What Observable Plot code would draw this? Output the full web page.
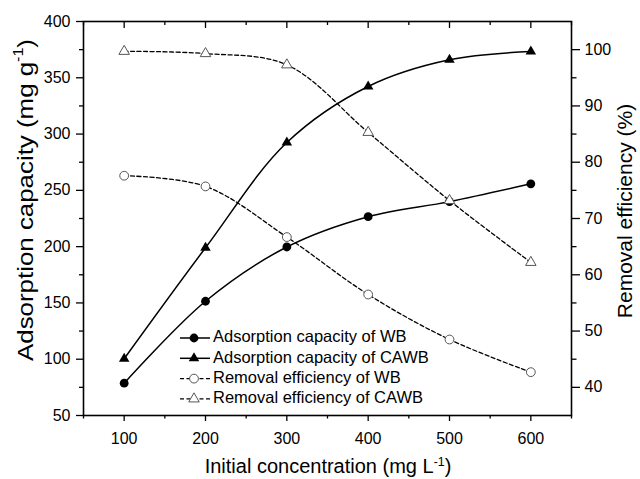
<!DOCTYPE html>
<html>
<head>
<meta charset="utf-8">
<script src="https://cdn.jsdelivr.net/npm/d3@7"></script>
<script src="https://cdn.jsdelivr.net/npm/@observablehq/plot@0.6"></script>
<style>
  html, body { margin: 0; padding: 0; background: #fff; }
  #chart svg { display: block; }
</style>
</head>
<body>
<div id="chart"></div>
<script>
// ---- data ----
const concentrations = [100, 200, 300, 400, 500, 600];          // mg L-1
const capacityWB     = [78.7, 151.5, 199.7, 226.6, 240.0, 255.8]; // mg g-1 (left axis)
const capacityCAWB   = [100.4, 199.0, 292.5, 342.3, 366.0, 373.4];
const removalWB      = [77.6, 75.7, 66.7, 56.5, 48.5, 42.7];    // % (right axis)
const removalCAWB    = [99.7, 99.3, 97.3, 85.3, 73.2, 62.2];

// ---- axis ticks ----
const xTicks = [100, 200, 300, 400, 500, 600];
const xMinorTicks = [50, 150, 250, 350, 450, 550, 650];
const leftTicks = [50, 100, 150, 200, 250, 300, 350, 400];
const leftMinorTicks = [75, 125, 175, 225, 275, 325, 375];
const rightTicks = [40, 50, 60, 70, 80, 90, 100];
const rightMinorTicks = [45, 55, 65, 75, 85, 95];

const legendLabels = [
  "Adsorption capacity of WB",
  "Adsorption capacity of CAWB",
  "Removal efficiency of WB",
  "Removal efficiency of CAWB"
];

// ---- scales ----
const leftDomain = [50, 400];
const rightDomain = [35, 105];
const toLeft = v => leftDomain[0] + (v - rightDomain[0]) * (leftDomain[1] - leftDomain[0]) / (rightDomain[1] - rightDomain[0]);
const fromLeft = v => rightDomain[0] + (v - leftDomain[0]) * (rightDomain[1] - rightDomain[0]) / (leftDomain[1] - leftDomain[0]);

const rows = concentrations.map((c, i) => ({
  c,
  capWB: capacityWB[i],
  capCAWB: capacityCAWB[i],
  remWB: toLeft(removalWB[i]),
  remCAWB: toLeft(removalCAWB[i])
}));

const FONT = "'Liberation Sans', Arial, Helvetica, sans-serif";
const W = 640, H = 479;
const mL = 83, mR = 69, mT = 21, mB = 64;
const innerH = H - mT - mB;

const R_CIRCLE = 4.4;
const R_TRI = 3.9;
const openStroke = "#555";
const dash = "4,2.5";
const TW = 1.3;

const plot = Plot.plot({
  width: W,
  height: H,
  marginLeft: mL,
  marginRight: mR,
  marginTop: mT,
  marginBottom: mB,
  style: { fontFamily: FONT, fontSize: "16px", color: "#000", background: "#fff" },
  x: { domain: [50, 650], axis: null },
  y: { domain: leftDomain, axis: null },
  marks: [
    // left axis
    Plot.axisY(leftTicks, { anchor: "left", tickSize: 7, tickPadding: 6, fontSize: 16, label: null, strokeWidth: TW }),
    Plot.axisY(leftMinorTicks, { anchor: "left", tickSize: 4, fill: "none", label: null, strokeWidth: TW }),
    // right axis (values mapped onto the left scale)
    Plot.axisY(rightTicks.map(toLeft), { anchor: "right", tickFormat: d => String(Math.round(fromLeft(d))), tickSize: 8, tickPadding: 5, fontSize: 16, label: null, strokeWidth: TW }),
    Plot.axisY(rightMinorTicks.map(toLeft), { anchor: "right", tickSize: 4.5, fill: "none", label: null, strokeWidth: TW }),
    // bottom axis
    Plot.axisX(xTicks, { anchor: "bottom", tickSize: 6, tickPadding: 11, fontSize: 16, label: null, strokeWidth: TW }),
    Plot.axisX(xMinorTicks, { anchor: "bottom", tickSize: 3.5, fill: "none", label: null, strokeWidth: TW }),
    // top mirrored ticks, pointing inward
    Plot.tickX(xTicks, { x: d => d, stroke: "#000", strokeWidth: TW, insetBottom: innerH - 7 }),
    Plot.tickX(xMinorTicks, { x: d => d, stroke: "#000", strokeWidth: TW, insetBottom: innerH - 4 }),
    Plot.frame({ stroke: "#000", strokeWidth: 1.6 }),

    // adsorption capacity of WB
    Plot.line(rows, { x: "c", y: "capWB", curve: "catmull-rom", stroke: "#000", strokeWidth: 1.5 }),
    Plot.dot(rows, { x: "c", y: "capWB", r: R_CIRCLE, fill: "#000", stroke: "none" }),
    // adsorption capacity of CAWB
    Plot.line(rows, { x: "c", y: "capCAWB", curve: "catmull-rom", stroke: "#000", strokeWidth: 1.5 }),
    Plot.dot(rows, { x: "c", y: "capCAWB", r: R_TRI, symbol: "triangle", fill: "#000", stroke: "none" }),
    // removal efficiency of WB
    Plot.line(rows, { x: "c", y: "remWB", curve: "catmull-rom", stroke: "#000", strokeWidth: 1.3, strokeDasharray: dash }),
    Plot.dot(rows, { x: "c", y: "remWB", r: R_CIRCLE, fill: "#fff", stroke: openStroke, strokeWidth: 1 }),
    // removal efficiency of CAWB
    Plot.line(rows, { x: "c", y: "remCAWB", curve: "catmull-rom", stroke: "#000", strokeWidth: 1.3, strokeDasharray: dash }),
    Plot.dot(rows, { x: "c", y: "remCAWB", r: R_TRI, symbol: "triangle", fill: "#fff", stroke: openStroke, strokeWidth: 1 })
  ]
});

document.getElementById("chart").appendChild(plot);

// ---- axis titles (with superscripts) and legend ----
const svg = d3.select(plot);

function titleWithSup(g, parts) {
  parts.forEach(p => {
    const t = g.append("tspan").text(p.text);
    if (p.sup) t.attr("font-size", "0.62em").attr("baseline-shift", "super");
  });
}

const yTitle = svg.append("text")
  .attr("transform", "translate(27,200) rotate(-90)")
  .attr("text-anchor", "middle")
  .attr("dominant-baseline", "middle")
  .attr("font-family", FONT)
  .attr("font-size", 22.5)
  .attr("textLength", 322)
  .attr("lengthAdjust", "spacingAndGlyphs")
  .attr("fill", "#000");
titleWithSup(yTitle, [{ text: "Adsorption capacity (mg g" }, { text: "-1", sup: true }, { text: ")" }]);

const yRTitle = svg.append("text")
  .attr("transform", "translate(626,211) rotate(-90)")
  .attr("text-anchor", "middle")
  .attr("dominant-baseline", "middle")
  .attr("font-family", FONT)
  .attr("font-size", 21)
  .attr("fill", "#000");
titleWithSup(yRTitle, [{ text: "Removal efficiency (%)" }]);

const xTitle = svg.append("text")
  .attr("x", 328)
  .attr("y", 473)
  .attr("text-anchor", "middle")
  .attr("font-family", FONT)
  .attr("font-size", 20)
  .attr("fill", "#000");
titleWithSup(xTitle, [{ text: "Initial concentration (mg L" }, { text: "-1", sup: true }, { text: ")" }]);

// legend
const legendStyles = [
  { symbol: d3.symbolCircle, r: R_CIRCLE, fill: "#000", stroke: "none", dash: null, sw: 1.5 },
  { symbol: d3.symbolTriangle, r: R_TRI, fill: "#000", stroke: "none", dash: null, sw: 1.5 },
  { symbol: d3.symbolCircle, r: R_CIRCLE, fill: "#fff", stroke: openStroke, dash: dash, sw: 1.3 },
  { symbol: d3.symbolTriangle, r: R_TRI, fill: "#fff", stroke: openStroke, dash: dash, sw: 1.3 }
];
const lg = svg.append("g").attr("transform", "translate(180,338)");
legendLabels.forEach((label, i) => {
  const s = legendStyles[i];
  const row = lg.append("g").attr("transform", `translate(0,${i * 20.3})`);
  row.append("line").attr("x1", 0).attr("x2", 30).attr("y1", 0).attr("y2", 0)
    .attr("stroke", "#000").attr("stroke-width", s.sw)
    .attr("stroke-dasharray", s.dash);
  row.append("path").attr("transform", "translate(14,0)")
    .attr("d", d3.symbol(s.symbol, s.r * s.r * Math.PI)())
    .attr("fill", s.fill).attr("stroke", s.stroke).attr("stroke-width", 1);
  row.append("text").attr("x", 33).attr("y", 0)
    .attr("text-anchor", "start")
    .attr("dominant-baseline", "middle")
    .attr("font-family", FONT).attr("font-size", 16.5).attr("fill", "#000")
    .text(label);
});
</script>
</body>
</html>
